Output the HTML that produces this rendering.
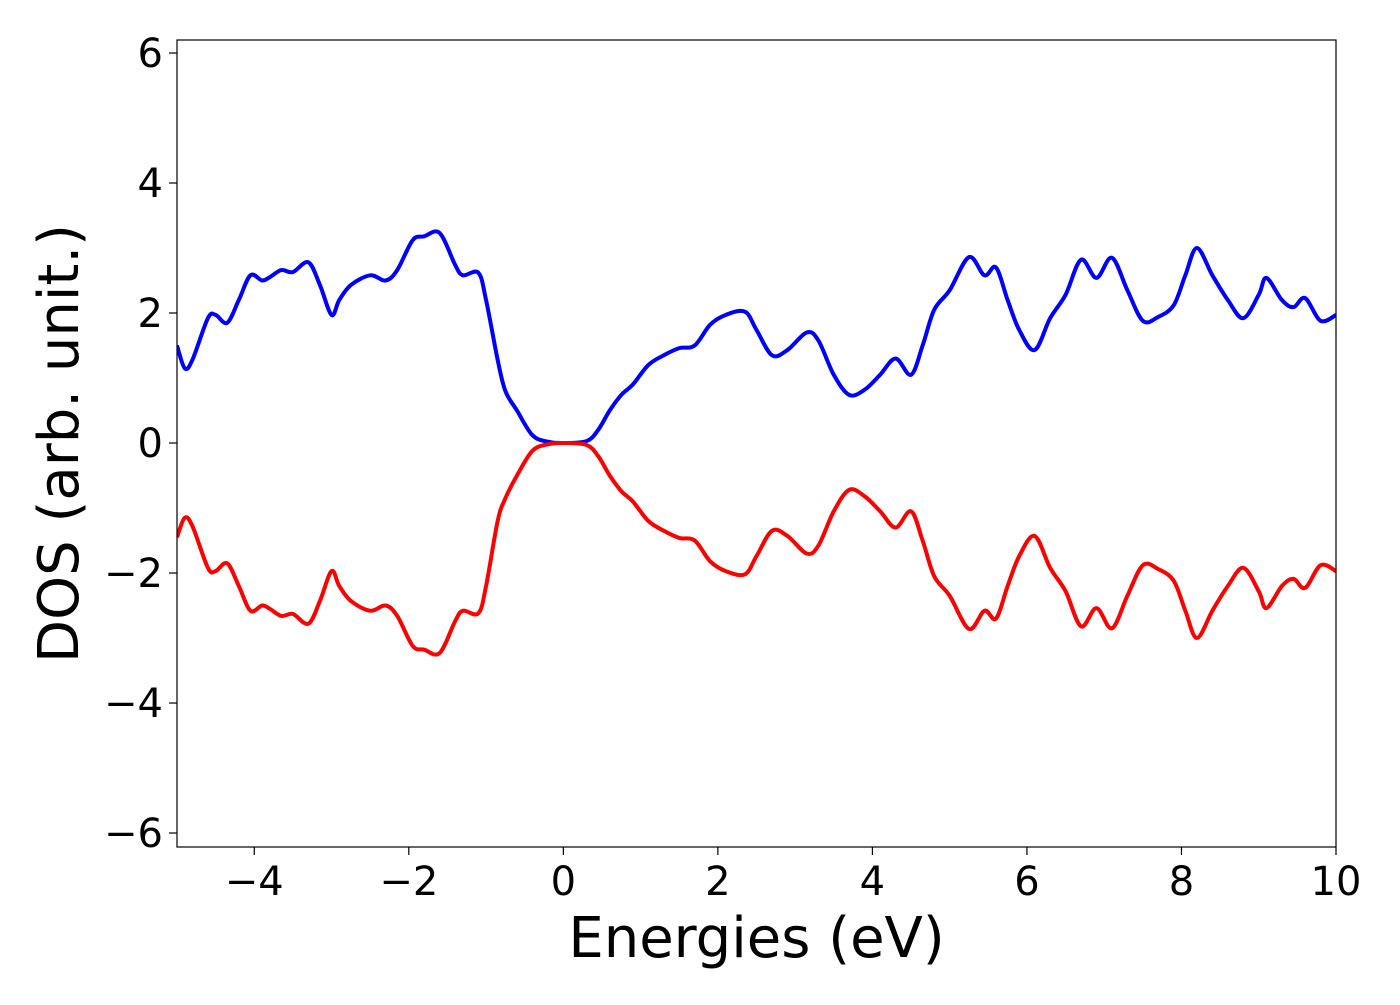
<!DOCTYPE html>
<html><head><meta charset="utf-8"><style>
html,body{margin:0;padding:0;background:#fff;}
svg text{font-family:"DejaVu Sans","Liberation Sans",sans-serif;fill:#000;}
</style></head><body>
<svg id="chart" width="1400" height="1000" xmlns="http://www.w3.org/2000/svg">
<g id="plot"></g>
</svg>
<script>
const energies=[-5,-4.9,-4.8,-4.6,-4.5,-4.35,-4.2,-4.05,-3.9,-3.8,-3.65,-3.5,-3.3,-3.15,-3.0,-2.9,-2.75,-2.5,-2.3,-2.15,-1.95,-1.8,-1.6,-1.4,-1.3,-1.1,-1.0,-0.85,-0.75,-0.6,-0.4,-0.2,0,0.3,0.45,0.6,0.75,0.9,1.1,1.3,1.5,1.7,1.9,2.1,2.35,2.5,2.7,2.9,3.15,3.3,3.5,3.7,3.9,4.1,4.3,4.5,4.65,4.8,5.0,5.25,5.45,5.6,5.75,5.9,6.1,6.3,6.5,6.7,6.9,7.1,7.3,7.5,7.7,7.9,8.05,8.2,8.4,8.6,8.8,9.0,9.1,9.3,9.45,9.6,9.8,10];
const dosUp=[1.5,1.15,1.28,1.92,1.97,1.85,2.2,2.58,2.5,2.55,2.66,2.63,2.78,2.43,1.97,2.2,2.43,2.58,2.5,2.66,3.12,3.18,3.23,2.74,2.58,2.62,2.2,1.28,0.8,0.5,0.12,0.02,0,0.03,0.2,0.5,0.74,0.9,1.2,1.35,1.46,1.5,1.82,1.97,2.02,1.74,1.35,1.43,1.7,1.58,1.05,0.74,0.82,1.05,1.3,1.05,1.5,2.05,2.35,2.86,2.58,2.7,2.2,1.74,1.43,1.92,2.28,2.82,2.54,2.85,2.35,1.88,1.94,2.12,2.58,3.0,2.58,2.2,1.92,2.28,2.54,2.2,2.09,2.23,1.88,1.97];
const dosDown=[-1.45,-1.15,-1.28,-1.92,-1.97,-1.85,-2.2,-2.58,-2.5,-2.55,-2.66,-2.63,-2.78,-2.43,-1.97,-2.2,-2.43,-2.58,-2.5,-2.66,-3.12,-3.18,-3.23,-2.74,-2.58,-2.62,-2.2,-1.2,-0.85,-0.5,-0.12,-0.02,0,-0.03,-0.2,-0.5,-0.74,-0.9,-1.2,-1.35,-1.46,-1.5,-1.82,-1.97,-2.02,-1.74,-1.35,-1.43,-1.7,-1.58,-1.05,-0.72,-0.82,-1.05,-1.3,-1.05,-1.5,-2.05,-2.35,-2.86,-2.58,-2.7,-2.2,-1.74,-1.43,-1.92,-2.28,-2.82,-2.54,-2.85,-2.35,-1.88,-1.94,-2.12,-2.58,-3.0,-2.58,-2.2,-1.92,-2.28,-2.54,-2.2,-2.09,-2.23,-1.88,-1.97];
const xTicks=[-4,-2,0,2,4,6,8,10];
const yTicks=[-6,-4,-2,0,2,4,6];

const L=177,R=1336,T=40,B=847,xMin=-5,xMax=10,yMin=-6.215,yMax=6.2;
const sx=v=>L+(v-xMin)/(xMax-xMin)*(R-L);
const sy=v=>B-(v-yMin)/(yMax-yMin)*(B-T);
const NS="http://www.w3.org/2000/svg";
const g=document.getElementById('plot');
function mk(t,a){const e=document.createElementNS(NS,t);for(const k in a)e.setAttribute(k,a[k]);g.appendChild(e);return e;}
function path(ys){
  const p=energies.map((x,i)=>[sx(x),sy(ys[i])]);
  let d='M'+p[0][0]+','+p[0][1];
  for(let i=0;i<p.length-1;i++){
    const p0=p[Math.max(0,i-1)],p1=p[i],p2=p[i+1],p3=p[Math.min(p.length-1,i+2)];
    const c1=[p1[0]+(p2[0]-p0[0])/6,p1[1]+(p2[1]-p0[1])/6];
    const c2=[p2[0]-(p3[0]-p1[0])/6,p2[1]-(p3[1]-p1[1])/6];
    d+=' C'+c1[0]+','+c1[1]+' '+c2[0]+','+c2[1]+' '+p2[0]+','+p2[1];
  }
  return d;
}
const defs=document.createElementNS(NS,'defs');
defs.innerHTML='<clipPath id="clip"><rect x="'+L+'" y="'+T+'" width="'+(R-L)+'" height="'+(B-T)+'"/></clipPath>';
g.appendChild(defs);
const up=mk('path',{d:path(dosUp),fill:'none',stroke:'#0000ff','stroke-width':4,'clip-path':'url(#clip)'});


const dn=mk('path',{d:path(dosDown),fill:'none',stroke:'#ff0000','stroke-width':4,'clip-path':'url(#clip)'});


const fr=mk('rect',{x:L,y:T,width:R-L,height:B-T,fill:'none',stroke:'#000','stroke-width':1.2});


xTicks.forEach(v=>{
  const x=sx(v);
  mk('line',{x1:x,x2:x,y1:B,y2:B+8,stroke:'#000','stroke-width':1.2});
  const t=mk('text',{x:x,y:B+48,'text-anchor':'middle','font-size':40});
  t.textContent=v<0?'\u2212'+(-v):String(v);
  
  
});
yTicks.forEach(v=>{
  const y=sy(v);
  mk('line',{x1:L-8,x2:L,y1:y,y2:y,stroke:'#000','stroke-width':1.2});
  const t=mk('text',{x:L-14,y:y+14,'text-anchor':'end','font-size':40});
  t.textContent=v<0?'\u2212'+(-v):String(v);
  
  
});
const xl=mk('text',{x:(L+R)/2,y:957,'text-anchor':'middle','font-size':56});
xl.textContent='Energies (eV)';


const yl=mk('text',{x:0,y:0,'text-anchor':'middle','font-size':56,transform:'translate(78,'+((T+B)/2)+') rotate(-90)'});
yl.textContent='DOS (arb. unit.)';


</script>
</body></html>
